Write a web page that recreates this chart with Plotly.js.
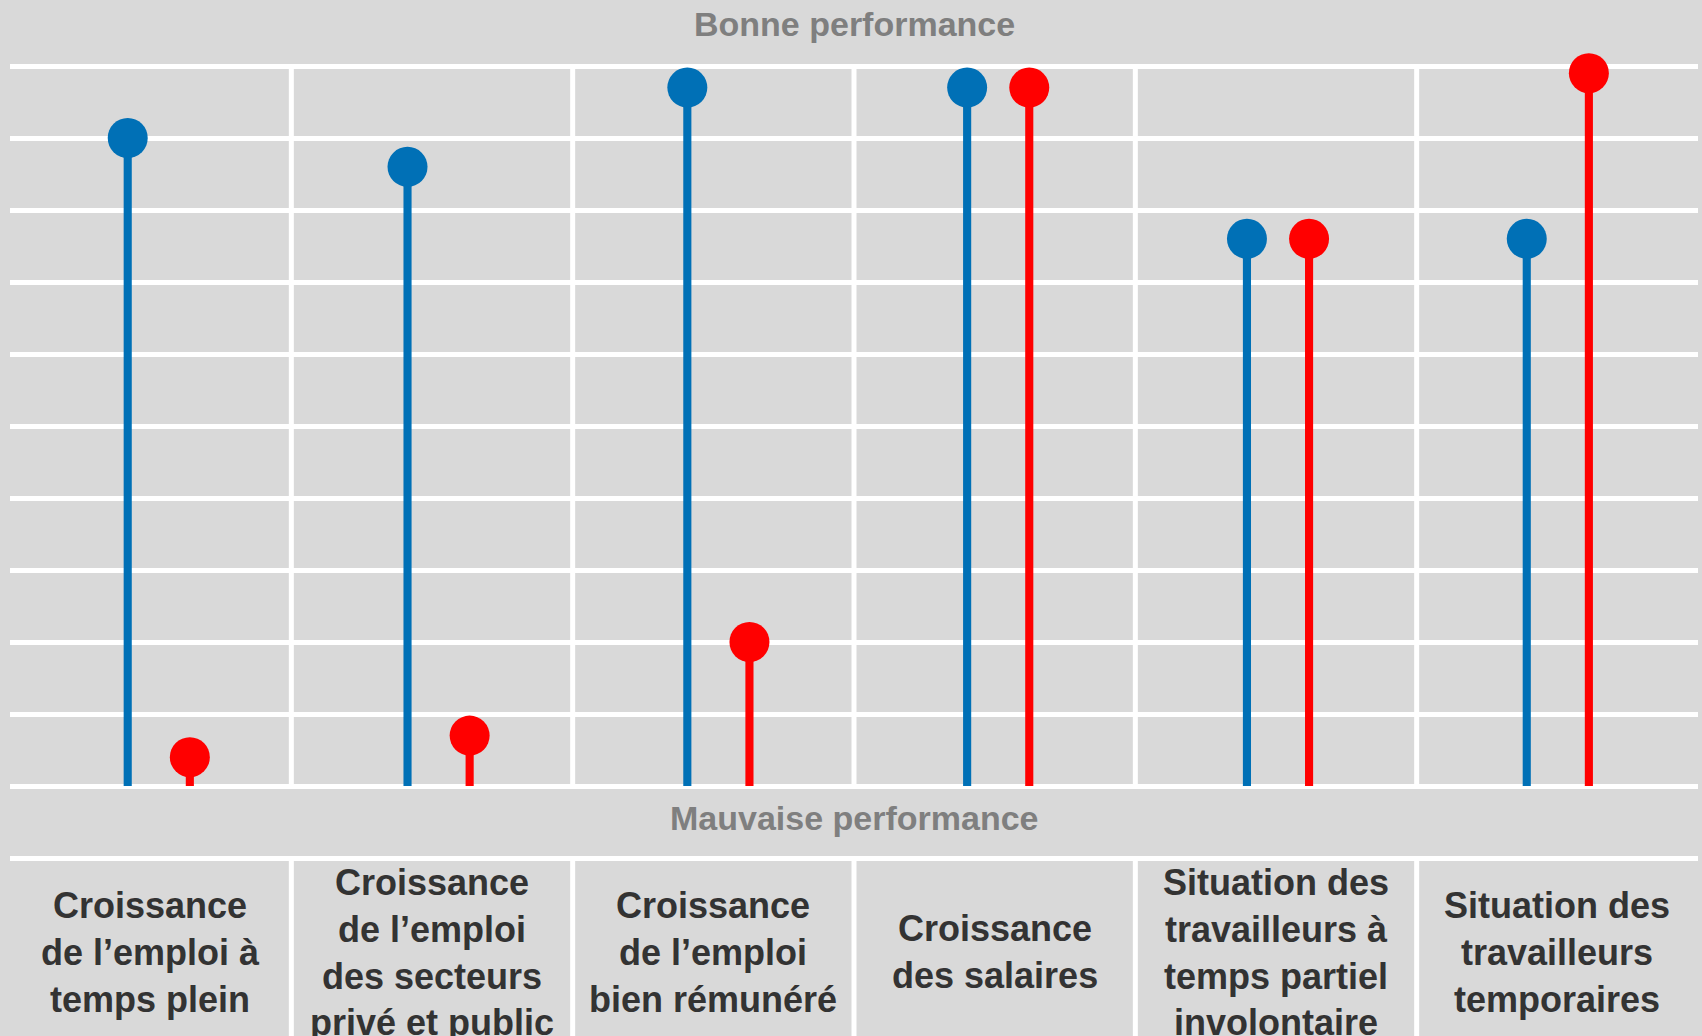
<!DOCTYPE html>
<html>
<head>
<meta charset="utf-8">
<script src="https://cdn.plot.ly/plotly-3.0.1.min.js"></script>
<style>
  html, body { margin: 0; padding: 0; background: #d9d9d9; }
  #chart { width: 1702px; height: 1036px; }
</style>
</head>
<body>
<div id="chart"></div>
<script>
// ---- Data ----
const categories = [
  "Croissance<br>de l’emploi à<br>temps plein",
  "Croissance<br>de l’emploi<br>des secteurs<br>privé et public",
  "Croissance<br>de l’emploi<br>bien rémunéré",
  "Croissance<br>des salaires",
  "Situation des<br>travailleurs à<br>temps partiel<br>involontaire",
  "Situation des<br>travailleurs<br>temporaires"
];
const blueValues = [9.0, 8.6, 9.7, 9.7, 7.6, 7.6];
const redValues  = [0.4, 0.7, 2.0, 9.7, 7.6, 9.9];
const topLabel = "Bonne performance";
const bottomLabel = "Mauvaise performance";
const yTicks = [-1, 0, 1, 2, 3, 4, 5, 6, 7, 8, 9, 10];

// ---- Styling / layout ----
const BLUE = "#0070b6";
const RED = "#ff0000";
const BG = "#d9d9d9";
const FONT = "Liberation Sans, Arial, sans-serif";
const blueOffset = -0.10;
const redOffset = 0.122;
const stemWidth = 0.029;
const yMin = -3.472, yMax = 10.5;

const idx = categories.map((_, i) => i);
const xBlue = idx.map(i => i + blueOffset);
const xRed = idx.map(i => i + redOffset);

const traces = [
  { type: "bar", x: xBlue, y: blueValues, width: stemWidth, xaxis: "x2",
    marker: { color: BLUE, line: { width: 0 } }, hoverinfo: "skip", showlegend: false },
  { type: "bar", x: xRed, y: redValues, width: stemWidth, xaxis: "x2",
    marker: { color: RED, line: { width: 0 } }, hoverinfo: "skip", showlegend: false },
  { type: "scatter", mode: "markers", x: xBlue, y: blueValues, cliponaxis: false, xaxis: "x2",
    marker: { color: BLUE, size: 40, line: { width: 0 } }, showlegend: false },
  { type: "scatter", mode: "markers", x: xRed, y: redValues, cliponaxis: false, xaxis: "x2",
    marker: { color: RED, size: 40, line: { width: 0 } }, showlegend: false }
];

const shapes = [];
for (let i = 0; i < categories.length - 1; i++) {
  const xb = i + 0.5;
  shapes.push({ type: "line", layer: "below", xref: "x", yref: "y",
    x0: xb, x1: xb, y0: 0, y1: 10, line: { color: "#ffffff", width: 5 } });
  shapes.push({ type: "line", layer: "below", xref: "x", yref: "y",
    x0: xb, x1: xb, y0: -1, y1: yMin, line: { color: "#ffffff", width: 5 } });
}

const annotations = categories.map((c, i) => ({
  xref: "x", yref: "y", x: i, y: -2.31, text: "<b>" + c + "</b>",
  showarrow: false, xanchor: "center", yanchor: "middle", align: "center",
  font: { family: FONT, size: 36, color: "#333333" }
}));
annotations.push({
  xref: "paper", yref: "paper", x: 0.5, y: (1036 - 24) / 1006,
  text: "<b>" + topLabel + "</b>", showarrow: false,
  xanchor: "center", yanchor: "middle",
  font: { family: FONT, size: 34, color: "#7f7f7f" }
});
annotations.push({
  xref: "paper", yref: "y", x: 0.5, y: -0.45,
  text: "<b>" + bottomLabel + "</b>", showarrow: false,
  xanchor: "center", yanchor: "middle",
  font: { family: FONT, size: 34, color: "#7f7f7f" }
});

const hiddenAxis = { showgrid: false, zeroline: false, showticklabels: false,
  ticks: "", showline: false, fixedrange: true };

const layout = {
  width: 1702, height: 1036,
  margin: { l: 10, r: 4, t: 30, b: 0, pad: 0 },
  paper_bgcolor: BG, plot_bgcolor: BG,
  showlegend: false,
  barmode: "overlay",
  xaxis: Object.assign({ range: [-0.5, categories.length - 0.5] }, hiddenAxis),
  xaxis2: Object.assign({ range: [-0.5207, 5.512], overlaying: "x" }, hiddenAxis),
  yaxis: { range: [yMin, yMax], tickmode: "array", tickvals: yTicks,
    showgrid: true, gridcolor: "#ffffff", gridwidth: 5, zeroline: false,
    showticklabels: false, ticks: "", showline: false, fixedrange: true },
  shapes: shapes,
  annotations: annotations,
  font: { family: FONT }
};

Plotly.newPlot("chart", traces, layout, { displayModeBar: false, staticPlot: true });
</script>
</body>
</html>
